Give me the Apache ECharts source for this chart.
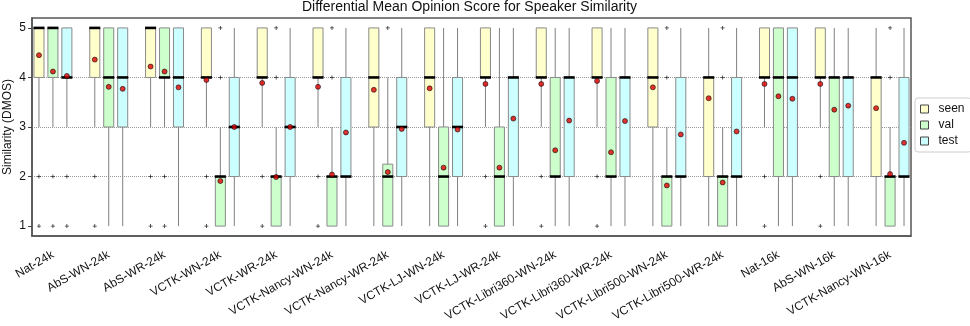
<!DOCTYPE html>
<html>
<head>
<meta charset="utf-8">
<script src="https://cdn.jsdelivr.net/npm/echarts@6/dist/echarts.min.js"></script>
<style>
  html, body { margin: 0; padding: 0; background: #fff; }
  #chart { width: 970px; height: 326px; }
</style>
</head>
<body>
<div id="chart"></div>
<script>
// conditions on the x axis
const categories = [
  'Nat-24k', 'AbS-WN-24k', 'AbS-WR-24k', 'VCTK-WN-24k', 'VCTK-WR-24k',
  'VCTK-Nancy-WN-24k', 'VCTK-Nancy-WR-24k', 'VCTK-LJ-WN-24k', 'VCTK-LJ-WR-24k',
  'VCTK-Libri360-WN-24k', 'VCTK-Libri360-WR-24k', 'VCTK-Libri500-WN-24k',
  'VCTK-Libri500-WR-24k', 'Nat-16k', 'AbS-WN-16k', 'VCTK-Nancy-WN-16k'
];
const seriesNames = ['seen', 'val', 'test'];

// [min, Q1, median, Q3, max] per condition
const seenStats = [
  [3, 4, 5, 5, 5], [3, 4, 5, 5, 5], [3, 4, 5, 5, 5], [3, 4, 4, 5, 5],
  [3, 4, 4, 5, 5], [3, 4, 4, 5, 5], [1, 3, 4, 5, 5], [1, 3, 4, 5, 5],
  [3, 4, 4, 5, 5], [3, 4, 4, 5, 5], [3, 4, 4, 5, 5], [1, 3, 4, 5, 5],
  [1, 2, 4, 4, 5], [3, 4, 4, 5, 5], [3, 4, 4, 5, 5], [1, 2, 4, 4, 5]
];
const valStats = [
  [3, 4, 5, 5, 5], [1, 3, 4, 5, 5], [3, 4, 4, 5, 5], [1, 1, 2, 2, 3],
  [1, 1, 2, 2, 3], [1, 1, 2, 2, 3], [1, 1, 2, 2.25, 4], [1, 1, 2, 3, 5],
  [1, 1, 2, 3, 5], [1, 2, 2, 4, 5], [1, 2, 2, 4, 5], [1, 1, 2, 2, 3],
  [1, 1, 2, 2, 3], [1, 2, 4, 5, 5], [1, 2, 4, 4, 5], [1, 1, 2, 2, 3]
];
const testStats = [
  [3, 4, 4, 5, 5], [1, 3, 4, 5, 5], [1, 3, 4, 5, 5], [1, 2, 3, 4, 5],
  [1, 2, 3, 4, 5], [1, 2, 2, 4, 5], [1, 2, 3, 4, 5], [1, 2, 3, 4, 5],
  [1, 2, 4, 4, 5], [1, 2, 4, 4, 5], [1, 2, 4, 4, 5], [1, 2, 2, 4, 5],
  [1, 2, 2, 4, 5], [1, 2, 4, 5, 5], [1, 2, 4, 4, 5], [1, 2, 2, 4, 5]
];

// means (red dots)
const seenMeans = [4.45, 4.36, 4.22, 3.95, 3.89, 3.81, 3.75, 3.78, 3.87, 3.87, 3.93, 3.80, 3.58, 3.87, 3.87, 3.38];
const valMeans = [4.12, 3.81, 4.12, 1.91, 1.99, 2.04, 2.09, 2.18, 2.18, 2.53, 2.49, 1.82, 1.88, 3.62, 3.35, 2.05];
const testMeans = [4.03, 3.77, 3.80, 3.00, 3.00, 2.89, 2.96, 2.95, 3.17, 3.13, 3.12, 2.85, 2.91, 3.57, 3.43, 2.68];

// outliers: [condition index, value]
const seenOutliers = [
  [0, 2], [0, 1], [1, 2], [1, 1], [2, 2], [2, 1], [3, 2], [3, 1], [4, 2], [4, 1],
  [5, 2], [5, 1], [8, 2], [8, 1], [9, 2], [9, 1], [10, 2], [10, 1],
  [13, 2], [13, 1], [14, 2], [14, 1]
];
const valOutliers = [
  [0, 2], [0, 1], [2, 2], [2, 1], [3, 5], [3, 4], [4, 5], [4, 4], [5, 5], [5, 4],
  [6, 5], [11, 5], [11, 4], [12, 5], [12, 4], [15, 5], [15, 4]
];
const testOutliers = [[0, 2], [0, 1]];

const fills = ['#ffffcc', '#ccffcc', '#ccffff'];
const allStats = [seenStats, valStats, testStats];
const allMeans = [seenMeans, valMeans, testMeans];
const allOutliers = [seenOutliers, valOutliers, testOutliers];

// each condition takes 4 slots: seen, val, test, gap
const slotOf = (g, j) => g * 4 + j;
const slotLabels = [];
for (let i = 0; i < categories.length * 4 - 1; i++) {
  slotLabels.push(i % 4 === 1 ? categories[(i - 1) / 4] : '');
}

function boxRenderer(fill) {
  return function (params, api) {
    const x = api.value(0);
    const lo = api.coord([x, api.value(1)]);
    const q1 = api.coord([x, api.value(2)]);
    const md = api.coord([x, api.value(3)]);
    const q3 = api.coord([x, api.value(4)]);
    const hi = api.coord([x, api.value(5)]);
    const w = api.size([1, 0])[0] * 0.72;
    const cx = lo[0];
    return {
      type: 'group',
      children: [
        { type: 'line', shape: { x1: cx, y1: hi[1], x2: cx, y2: lo[1] },
          style: { stroke: '#808080', lineWidth: 1 } },
        { type: 'rect', shape: { x: cx - w / 2, y: q3[1], width: w, height: q1[1] - q3[1] },
          style: { fill: fill, stroke: '#8a8a8a', lineWidth: 1 } },
        { type: 'line', shape: { x1: cx - w / 2 - 0.5, y1: md[1], x2: cx + w / 2 + 0.5, y2: md[1] },
          style: { stroke: '#000', lineWidth: 2.6 } }
      ]
    };
  };
}

const series = [];
seriesNames.forEach((name, j) => {
  series.push({
    name: name,
    type: 'custom',
    renderItem: boxRenderer(fills[j]),
    itemStyle: { color: fills[j], borderColor: '#444', borderWidth: 1 },
    encode: { x: 0, y: [1, 2, 3, 4, 5] },
    data: allStats[j].map((s, g) => [slotOf(g, j)].concat(s)),
    z: 2
  });
});
seriesNames.forEach((name, j) => {
  series.push({
    name: name + ' outliers',
    type: 'scatter',
    symbol: 'path://M2,0H3V5H2ZM0,2H5V3H0Z',
    symbolSize: 4,
    itemStyle: { color: '#000' },
    data: allOutliers[j].map(o => [slotOf(o[0], j), o[1]]),
    z: 3
  });
  series.push({
    name: name + ' mean',
    type: 'scatter',
    symbol: 'circle',
    symbolSize: 5,
    itemStyle: { color: '#e00000', borderColor: '#000', borderWidth: 0.7 },
    data: allMeans[j].map((m, g) => [slotOf(g, j), m]),
    z: 4
  });
});

const chart = echarts.init(document.getElementById('chart'), null, { renderer: 'canvas' });
chart.setOption({
  animation: false,
  textStyle: { fontFamily: 'Liberation Sans, Arial, sans-serif' },
  title: {
    text: 'Differential Mean Opinion Score for Speaker Similarity',
    left: 302,
    top: 0,
    padding: 0,
    textStyle: { fontSize: 14, fontWeight: 'normal', color: '#111' }
  },
  legend: {
    data: seriesNames,
    orient: 'vertical',
    left: 915,
    top: 98,
    padding: [5, 7, 5, 5],
    itemGap: 4,
    itemWidth: 8,
    itemHeight: 8,
    icon: 'rect',
    itemStyle: { borderColor: '#444', borderWidth: 1 },
    textStyle: { fontSize: 12, color: '#111', padding: [0, 0, 0, 5] },
    backgroundColor: '#fff',
    borderColor: '#ccc',
    borderWidth: 1,
    borderRadius: 3
  },
  grid: {
    left: 32, right: 59, top: 18, bottom: 90,
    outerBoundsMode: 'none',
    containLabel: false,
    show: true, borderColor: '#555', borderWidth: 1.5
  },
  xAxis: {
    type: 'category',
    data: slotLabels,
    boundaryGap: true,
    axisLine: { lineStyle: { color: '#555', width: 1.5 } },
    axisTick: {
      alignWithLabel: true,
      length: 5,
      interval: i => i % 4 !== 3,
      lineStyle: { color: '#444' }
    },
    axisLabel: {
      interval: 0,
      rotate: 30,
      margin: 18,
      fontSize: 12,
      color: '#111'
    },
    splitLine: { show: false }
  },
  yAxis: {
    type: 'value',
    min: 0.8,
    max: 5.2,
    splitNumber: 4,
    name: 'Similarity (DMOS)',
    nameLocation: 'middle',
    nameGap: 18,
    nameMoveOverlap: false,
    nameTextStyle: { fontSize: 12, color: '#111' },
    axisLine: { show: true, lineStyle: { color: '#555', width: 1.5 } },
    axisTick: { show: true, length: 4, customValues: [1, 2, 3, 4, 5], lineStyle: { color: '#444' } },
    axisLabel: {
      customValues: [1, 2, 3, 4, 5],
      margin: 6,
      fontSize: 12,
      color: '#111'
    },
    splitLine: {
      show: true,
      showMinLine: false,
      showMaxLine: false,
      lineStyle: { color: '#999', type: [1, 1], width: 1 }
    }
  },
  series: series
});
</script>
</body>
</html>
